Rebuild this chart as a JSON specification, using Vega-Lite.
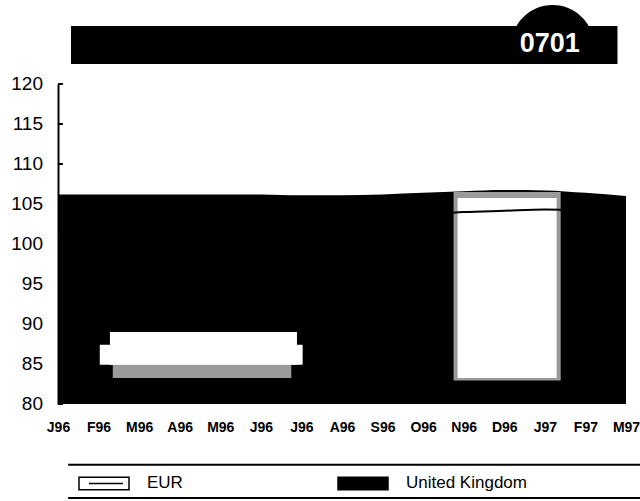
{
  "$schema": "https://vega.github.io/schema/vega-lite/v6.json",
  "autosize": {"type": "none"},
  "width": 568,
  "height": 320,
  "padding": {"left": 58, "top": 84, "right": 14, "bottom": 97},
  "background": "white",
  "config": {"view": {"stroke": null}, "font": "Liberation Sans"},
  "datasets": {
    "series": [
      {"month": "J96", "t": 0, "series": "United Kingdom", "value": 106.2},
      {"month": "F96", "t": 1, "series": "United Kingdom", "value": 106.2},
      {"month": "M96", "t": 2, "series": "United Kingdom", "value": 106.2},
      {"month": "A96", "t": 3, "series": "United Kingdom", "value": 106.2},
      {"month": "M96", "t": 4, "series": "United Kingdom", "value": 106.2},
      {"month": "J96", "t": 5, "series": "United Kingdom", "value": 106.2},
      {"month": "J96", "t": 6, "series": "United Kingdom", "value": 106.1},
      {"month": "A96", "t": 7, "series": "United Kingdom", "value": 106.1},
      {"month": "S96", "t": 8, "series": "United Kingdom", "value": 106.2},
      {"month": "O96", "t": 9, "series": "United Kingdom", "value": 106.4},
      {"month": "N96", "t": 10, "series": "United Kingdom", "value": 106.6},
      {"month": "D96", "t": 11, "series": "United Kingdom", "value": 106.75},
      {"month": "J97", "t": 12, "series": "United Kingdom", "value": 106.7},
      {"month": "F97", "t": 13, "series": "United Kingdom", "value": 106.4},
      {"month": "M97", "t": 14, "series": "United Kingdom", "value": 106.0},
      {"month": "J96", "t": 0, "series": "EUR", "value": 101.0},
      {"month": "F96", "t": 1, "series": "EUR", "value": 101.3},
      {"month": "M96", "t": 2, "series": "EUR", "value": 101.6},
      {"month": "A96", "t": 3, "series": "EUR", "value": 101.9},
      {"month": "M96", "t": 4, "series": "EUR", "value": 102.1},
      {"month": "J96", "t": 5, "series": "EUR", "value": 102.4},
      {"month": "J96", "t": 6, "series": "EUR", "value": 102.7},
      {"month": "A96", "t": 7, "series": "EUR", "value": 102.9},
      {"month": "S96", "t": 8, "series": "EUR", "value": 103.2},
      {"month": "O96", "t": 9, "series": "EUR", "value": 103.6},
      {"month": "N96", "t": 10, "series": "EUR", "value": 104.0},
      {"month": "D96", "t": 11, "series": "EUR", "value": 104.15},
      {"month": "J97", "t": 12, "series": "EUR", "value": 104.3},
      {"month": "F97", "t": 13, "series": "EUR", "value": 104.2},
      {"month": "M97", "t": 14, "series": "EUR", "value": 104.0}
    ],
    "yticks": [{"v": 80}, {"v": 85}, {"v": 90}, {"v": 95}, {"v": 100}, {"v": 105}, {"v": 110}, {"v": 115}, {"v": 120}]
  },
  "data": {"name": "series"},
  "layer": [
    {
      "data": {"values": [{}]},
      "mark": {"type": "rect", "color": "black", "clip": false},
      "encoding": {
        "x": {"datum": 0.32, "type": "quantitative", "scale": {"domain": [0, 14], "nice": false, "zero": false},
          "title": null,
          "axis": {"values": [0,1,2,3,4,5,6,7,8,9,10,11,12,13,14],
            "labelExpr": "['J96','F96','M96','A96','M96','J96','J96','A96','S96','O96','N96','D96','J97','F97','M97'][datum.value]",
            "domain": false, "ticks": false, "grid": false,
            "labelFont": "Liberation Sans", "labelFontWeight": "bold", "labelFontSize": 14, "labelColor": "black",
            "labelPadding": 16, "labelFlush": false, "labelOverlap": false}},
        "x2": {"datum": 13.79},
        "y": {"datum": 127.25, "type": "quantitative", "scale": {"domain": [80, 120], "nice": false, "zero": false},
          "title": null,
          "axis": {"grid": false, "labels": false, "ticks": false, "domainColor": "black", "domainWidth": 2}},
        "y2": {"datum": 122.5}
      }
    },
    {
      "data": {"values": [{}]},
      "mark": {"type": "point", "shape": "M-1,0A1,1,0,0,1,1,0Z", "filled": true, "color": "black", "opacity": 1, "size": 6889, "clip": false},
      "encoding": {
        "x": {"datum": 12.19, "type": "quantitative", "title": null},
        "y": {"datum": 124.69, "type": "quantitative", "title": null}
      }
    },
    {
      "data": {"values": [{}]},
      "mark": {"type": "text", "text": "0701", "color": "white", "font": "Liberation Sans", "fontWeight": "bold", "fontSize": 27, "align": "center", "baseline": "middle", "clip": false},
      "encoding": {
        "x": {"datum": 12.12, "type": "quantitative", "title": null},
        "y": {"datum": 124.95, "type": "quantitative", "title": null}
      }
    },
    {
      "data": {"name": "yticks"},
      "mark": {"type": "text", "align": "right", "baseline": "middle", "font": "Liberation Sans", "fontSize": 19, "color": "black", "clip": false},
      "encoding": {
        "x": {"datum": -0.37, "type": "quantitative", "title": null},
        "y": {"field": "v", "type": "quantitative", "title": null},
        "text": {"field": "v", "type": "quantitative"}
      }
    },
    {
      "transform": [{"filter": "datum.series === 'United Kingdom'"}],
      "mark": {"type": "area", "interpolate": "monotone", "opacity": 1},
      "encoding": {
        "x": {"field": "t", "type": "quantitative", "title": null},
        "y": {"field": "value", "type": "quantitative", "title": null},
        "y2": {"datum": 80},
        "color": {"field": "series", "type": "nominal",
          "scale": {"domain": ["EUR", "United Kingdom"], "range": ["white", "black"]},
          "legend": {
            "orient": "none", "legendX": 20, "legendY": 373, "direction": "horizontal", "title": null,
            "labelFont": "Liberation Sans", "labelFontSize": 17, "labelColor": "black",
            "symbolSize": 2500, "labelOffset": 17, "columnPadding": 152, "padding": 0,
            "symbolType": "M-1,-0.25H1V0.25H-1Z M-0.6,0H0.76",
            "symbolStrokeWidth": 1.5, "symbolStrokeColor": "black", "symbolOpacity": 1
          }}
      }
    },
    {
      "data": {"values": [{}]},
      "mark": {"type": "rect", "color": "#9a9a9a"},
      "encoding": {"x": {"datum": 1.35, "type": "quantitative", "title": null}, "x2": {"datum": 5.75}, "y": {"datum": 83.25, "type": "quantitative", "title": null}, "y2": {"datum": 84.9}}
    },
    {
      "data": {"values": [{}]},
      "mark": {"type": "rect", "color": "white"},
      "encoding": {"x": {"datum": 1.28, "type": "quantitative", "title": null}, "x2": {"datum": 5.89}, "y": {"datum": 84.9, "type": "quantitative", "title": null}, "y2": {"datum": 89.0}}
    },
    {
      "data": {"values": [{}]},
      "mark": {"type": "rect", "color": "white"},
      "encoding": {"x": {"datum": 1.03, "type": "quantitative", "title": null}, "x2": {"datum": 6.03}, "y": {"datum": 84.9, "type": "quantitative", "title": null}, "y2": {"datum": 87.4}}
    },
    {
      "data": {"values": [{}]},
      "mark": {"type": "rect", "color": "#9a9a9a"},
      "encoding": {"x": {"datum": 9.75, "type": "quantitative", "title": null}, "x2": {"datum": 12.39}, "y": {"datum": 82.95, "type": "quantitative", "title": null}, "y2": {"datum": 106.5}}
    },
    {
      "data": {"values": [{}]},
      "mark": {"type": "rect", "color": "white"},
      "encoding": {"x": {"datum": 9.85, "type": "quantitative", "title": null}, "x2": {"datum": 12.29}, "y": {"datum": 83.25, "type": "quantitative", "title": null}, "y2": {"datum": 105.75}}
    },
    {
      "transform": [{"filter": "datum.series === 'EUR'"}],
      "mark": {"type": "line", "strokeWidth": 2, "interpolate": "monotone", "color": "black"},
      "encoding": {
        "x": {"field": "t", "type": "quantitative", "title": null},
        "y": {"field": "value", "type": "quantitative", "title": null}
      }
    },
    {
      "data": {"name": "yticks"},
      "mark": {"type": "rule", "color": "black", "strokeWidth": 2, "clip": false},
      "encoding": {
        "x": {"datum": 0, "type": "quantitative", "title": null},
        "x2": {"datum": 0.12},
        "y": {"field": "v", "type": "quantitative", "title": null}
      }
    },
    {
      "data": {"values": [{"y": 72.4}, {"y": 68.25}]},
      "mark": {"type": "rule", "color": "black", "strokeWidth": 2, "clip": false},
      "encoding": {
        "x": {"datum": 0.25, "type": "quantitative", "title": null},
        "x2": {"datum": 14.35},
        "y": {"field": "y", "type": "quantitative", "title": null}
      }
    }
  ]
}
